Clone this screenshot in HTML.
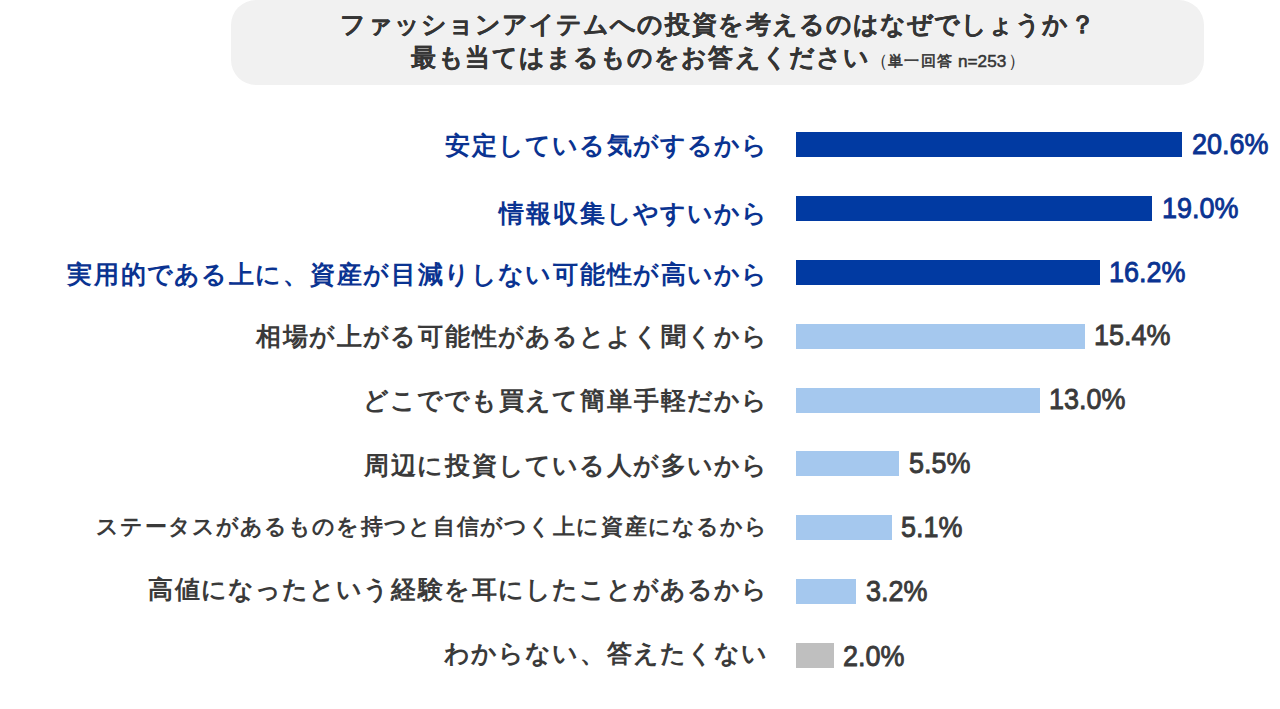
<!DOCTYPE html>
<html lang="ja"><head><meta charset="utf-8">
<style>
html,body{margin:0;padding:0;background:#fff;}
body{width:1280px;height:709px;position:relative;overflow:hidden;font-family:"Liberation Sans",sans-serif;font-weight:bold;}
i{font-style:normal;display:inline-block;text-align:center;-webkit-text-stroke-width:0px;}
.n{font-weight:normal;-webkit-text-stroke-width:0.5px;}
.sub i{font-weight:normal;-webkit-text-stroke-width:0.6px;}
.t i.p{font-weight:normal;-webkit-text-stroke-width:0;font-size:18px;vertical-align:top;}
.box{position:absolute;left:231px;top:0;width:973px;height:85px;background:#f1f1f1;border-radius:25px;}
.t{position:absolute;white-space:nowrap;color:#353535;line-height:40px;height:40px;}
.t1 i,.t2 i{-webkit-text-stroke-width:0.15px;}
.t1{left:339.6px;top:4.699999999999999px;font-size:24.5px;}
.t2{left:410.1px;top:37.7px;font-size:24.5px;}
.sub{left:871.5px;top:40.5px;font-size:15px;}
.n{left:958px;top:40.5px;font-size:17.2px;}
.bar{position:absolute;left:796px;height:25px;}
.dark{background:#013aa2;}
.light{background:#a5c8ee;}
.gray{background:#bfbfbf;}
.lab{position:absolute;white-space:nowrap;line-height:40px;height:40px;}
.val{position:absolute;white-space:nowrap;line-height:100px;height:100px;font-weight:normal;-webkit-text-stroke-width:0.9px;transform:scaleX(0.93);transform-origin:0 0;font-size:29px;letter-spacing:0px;}
.blue{color:#0a3391;}
.grey{color:#3a3a3a;}
</style></head><body>
<div class="box"></div>
<div class="t t1"><i style="width:27px">フ</i><i style="width:27px">ァ</i><i style="width:27px">ッ</i><i style="width:27px">シ</i><i style="width:27px">ョ</i><i style="width:27px">ン</i><i style="width:27px">ア</i><i style="width:27px">イ</i><i style="width:27px">テ</i><i style="width:27px">ム</i><i style="width:27px">へ</i><i style="width:27px">の</i><i style="width:27px">投</i><i style="width:27px">資</i><i style="width:27px">を</i><i style="width:27px">考</i><i style="width:27px">え</i><i style="width:27px">る</i><i style="width:27px">の</i><i style="width:27px">は</i><i style="width:27px">な</i><i style="width:27px">ぜ</i><i style="width:27px">で</i><i style="width:27px">し</i><i style="width:27px">ょ</i><i style="width:27px">う</i><i style="width:27px">か</i><i style="width:27px">？</i></div>
<div class="t t2"><i style="width:27px">最</i><i style="width:27px">も</i><i style="width:27px">当</i><i style="width:27px">て</i><i style="width:27px">は</i><i style="width:27px">ま</i><i style="width:27px">る</i><i style="width:27px">も</i><i style="width:27px">の</i><i style="width:27px">を</i><i style="width:27px">お</i><i style="width:27px">答</i><i style="width:27px">え</i><i style="width:27px">く</i><i style="width:27px">だ</i><i style="width:27px">さ</i><i style="width:27px">い</i></div>
<div class="t sub"><i class="p" style="width:16.2px;position:relative;left:-2px">（</i><i style="width:16.2px">単</i><i style="width:16.2px">一</i><i style="width:16.2px">回</i><i style="width:16.2px">答</i></div>
<div class="t n">n=253<i class="p" style="width:16.2px;position:relative;left:2px">）</i></div>
<div class="bar dark" style="top:132.00px;width:386.0px"></div>
<div class="lab blue" style="top:125.20px;left:443.5px;font-size:25px"><i style="width:27px">安</i><i style="width:27px">定</i><i style="width:27px">し</i><i style="width:27px">て</i><i style="width:27px">い</i><i style="width:27px">る</i><i style="width:27px">気</i><i style="width:27px">が</i><i style="width:27px">す</i><i style="width:27px">る</i><i style="width:27px">か</i><i style="width:27px">ら</i></div>
<div class="val blue" style="top:93.80px;left:1191.5px">20.6%</div>
<div class="bar dark" style="top:195.88px;width:356.0px"></div>
<div class="lab blue" style="top:192.62px;left:497.5px;font-size:25px"><i style="width:27px">情</i><i style="width:27px">報</i><i style="width:27px">収</i><i style="width:27px">集</i><i style="width:27px">し</i><i style="width:27px">や</i><i style="width:27px">す</i><i style="width:27px">い</i><i style="width:27px">か</i><i style="width:27px">ら</i></div>
<div class="val blue" style="top:157.98px;left:1161.5px">19.0%</div>
<div class="bar dark" style="top:259.75px;width:303.6px"></div>
<div class="lab blue" style="top:253.75px;left:65.5px;font-size:25px"><i style="width:27px">実</i><i style="width:27px">用</i><i style="width:27px">的</i><i style="width:27px">で</i><i style="width:27px">あ</i><i style="width:27px">る</i><i style="width:27px">上</i><i style="width:27px">に</i><i style="width:27px">、</i><i style="width:27px">資</i><i style="width:27px">産</i><i style="width:27px">が</i><i style="width:27px">目</i><i style="width:27px">減</i><i style="width:27px">り</i><i style="width:27px">し</i><i style="width:27px">な</i><i style="width:27px">い</i><i style="width:27px">可</i><i style="width:27px">能</i><i style="width:27px">性</i><i style="width:27px">が</i><i style="width:27px">高</i><i style="width:27px">い</i><i style="width:27px">か</i><i style="width:27px">ら</i></div>
<div class="val blue" style="top:221.55px;left:1109.1px">16.2%</div>
<div class="bar light" style="top:323.62px;width:288.6px"></div>
<div class="lab grey" style="top:316.38px;left:254.5px;font-size:25px"><i style="width:27px">相</i><i style="width:27px">場</i><i style="width:27px">が</i><i style="width:27px">上</i><i style="width:27px">が</i><i style="width:27px">る</i><i style="width:27px">可</i><i style="width:27px">能</i><i style="width:27px">性</i><i style="width:27px">が</i><i style="width:27px">あ</i><i style="width:27px">る</i><i style="width:27px">と</i><i style="width:27px">よ</i><i style="width:27px">く</i><i style="width:27px">聞</i><i style="width:27px">く</i><i style="width:27px">か</i><i style="width:27px">ら</i></div>
<div class="val grey" style="top:284.93px;left:1094.1px">15.4%</div>
<div class="bar light" style="top:387.50px;width:243.6px"></div>
<div class="lab grey" style="top:380.00px;left:362.5px;font-size:25px"><i style="width:27px">ど</i><i style="width:27px">こ</i><i style="width:27px">で</i><i style="width:27px">で</i><i style="width:27px">も</i><i style="width:27px">買</i><i style="width:27px">え</i><i style="width:27px">て</i><i style="width:27px">簡</i><i style="width:27px">単</i><i style="width:27px">手</i><i style="width:27px">軽</i><i style="width:27px">だ</i><i style="width:27px">か</i><i style="width:27px">ら</i></div>
<div class="val grey" style="top:348.80px;left:1049.1px">13.0%</div>
<div class="bar light" style="top:451.38px;width:103.1px"></div>
<div class="lab grey" style="top:445.23px;left:362.5px;font-size:25px"><i style="width:27px">周</i><i style="width:27px">辺</i><i style="width:27px">に</i><i style="width:27px">投</i><i style="width:27px">資</i><i style="width:27px">し</i><i style="width:27px">て</i><i style="width:27px">い</i><i style="width:27px">る</i><i style="width:27px">人</i><i style="width:27px">が</i><i style="width:27px">多</i><i style="width:27px">い</i><i style="width:27px">か</i><i style="width:27px">ら</i></div>
<div class="val grey" style="top:412.68px;left:908.6px">5.5%</div>
<div class="bar light" style="top:515.25px;width:95.6px"></div>
<div class="lab grey" style="top:506.55px;left:95.5px;font-size:22px"><i style="width:24px">ス</i><i style="width:24px">テ</i><i style="width:24px">ー</i><i style="width:24px">タ</i><i style="width:24px">ス</i><i style="width:24px">が</i><i style="width:24px">あ</i><i style="width:24px">る</i><i style="width:24px">も</i><i style="width:24px">の</i><i style="width:24px">を</i><i style="width:24px">持</i><i style="width:24px">つ</i><i style="width:24px">と</i><i style="width:24px">自</i><i style="width:24px">信</i><i style="width:24px">が</i><i style="width:24px">つ</i><i style="width:24px">く</i><i style="width:24px">上</i><i style="width:24px">に</i><i style="width:24px">資</i><i style="width:24px">産</i><i style="width:24px">に</i><i style="width:24px">な</i><i style="width:24px">る</i><i style="width:24px">か</i><i style="width:24px">ら</i></div>
<div class="val grey" style="top:476.55px;left:901.1px">5.1%</div>
<div class="bar light" style="top:579.12px;width:60.0px"></div>
<div class="lab grey" style="top:569.42px;left:146.5px;font-size:25px"><i style="width:27px">高</i><i style="width:27px">値</i><i style="width:27px">に</i><i style="width:27px">な</i><i style="width:27px">っ</i><i style="width:27px">た</i><i style="width:27px">と</i><i style="width:27px">い</i><i style="width:27px">う</i><i style="width:27px">経</i><i style="width:27px">験</i><i style="width:27px">を</i><i style="width:27px">耳</i><i style="width:27px">に</i><i style="width:27px">し</i><i style="width:27px">た</i><i style="width:27px">こ</i><i style="width:27px">と</i><i style="width:27px">が</i><i style="width:27px">あ</i><i style="width:27px">る</i><i style="width:27px">か</i><i style="width:27px">ら</i></div>
<div class="val grey" style="top:541.42px;left:865.5px">3.2%</div>
<div class="bar gray" style="top:643.00px;width:37.5px"></div>
<div class="lab grey" style="top:633.20px;left:443.5px;font-size:25px"><i style="width:27px">わ</i><i style="width:27px">か</i><i style="width:27px">ら</i><i style="width:27px">な</i><i style="width:27px">い</i><i style="width:27px">、</i><i style="width:27px">答</i><i style="width:27px">え</i><i style="width:27px">た</i><i style="width:27px">く</i><i style="width:27px">な</i><i style="width:27px">い</i></div>
<div class="val grey" style="top:605.80px;left:843.0px">2.0%</div>
</body></html>
